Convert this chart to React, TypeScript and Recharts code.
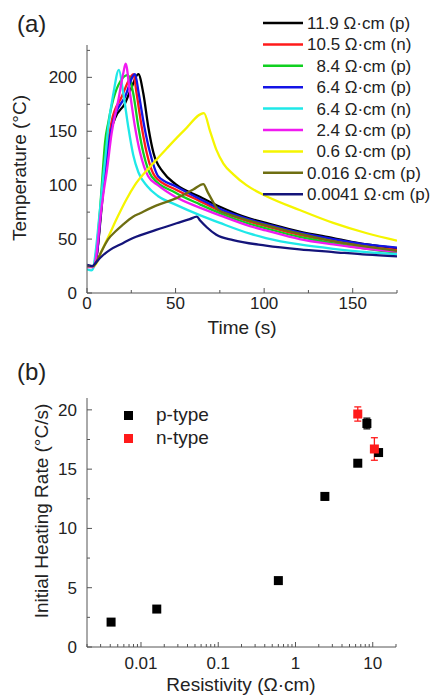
import React from "react";
import { LineChart, Line, XAxis, YAxis, ScatterChart, Scatter, ErrorBar } from "recharts";

const FONT = "Arial, 'Liberation Sans', sans-serif";
const AXIS = "#555";
const INK = "#222";

// ---- panel (a): temperature (°C) vs time (s), one [t, T] list per sample ----
const curve119p = [[0,25],[4,25],[5.5,35],[8,75],[10,110],[12,139],[15.8,162],[21.5,176],[25,190],[29,203],[31.8,185],[34.6,154],[37.5,130],[43,112],[50,101],[64,89],[75,80],[92,69],[101,65],[120,57],[139,51],[158,45],[175,41.5]];
const curve105n = [[0,25],[4,25],[5.5,35],[8,80],[10.2,120],[14,160],[19.6,182],[24.5,200],[26.2,203],[28,185],[30.9,154],[33.7,130],[38.4,108],[50,96],[64,85],[75,76],[92,66],[101,62],[120,54],[139,48],[158,43],[175,40]];
const curve84p = [[0,25],[3.5,25],[5,35],[7.5,80],[9,115],[10.2,140],[12,158],[15.8,185],[23,202],[26.1,185],[29,154],[31.8,130],[36.5,108],[50,93],[64,82],[75,74],[92,64],[101,60],[120,52],[139,46],[158,41],[175,37.5]];
const curve64p = [[0,25],[4,25],[5.5,35],[8,78],[10.2,114],[14.9,160],[21.5,182],[27.1,203],[29.2,185],[32.4,154],[35.6,130],[40.3,108],[50,99],[64,87],[75,78],[92,68],[101,64],[120,56],[139,50],[158,45],[175,42]];
const curve64n = [[0,22],[2.5,21],[3.5,23],[5,40],[7,72],[9,105],[10.5,128],[12,154],[14.9,185],[18,207],[20.5,185],[23.3,154],[26.1,128],[29,112],[34,99],[40,90],[50,82],[64,72],[75,65],[92,55],[101,51],[120,45],[139,41],[158,38],[175,36]];
const curve24p = [[0,24],[3.5,24],[5,32],[7.5,70],[9.5,95],[11.1,112],[13.9,148],[17.7,179],[20.5,204],[21.8,212.6],[24.3,185],[27.1,154],[30,130],[34.6,108],[40,100],[50,89],[64,79],[75,72],[92,62],[101,58],[120,50],[139,45],[158,41],[175,38.5]];
const curve06p = [[0,25],[4,25],[5.5,28],[8,38],[12,52],[17.7,72],[22,86],[27,100],[35,116],[45,134],[55,151],[66,166.8],[69.5,150],[73,133],[77,120],[82.6,110],[90,100],[101,90],[120,77],[139,65],[158,55.4],[175,48.6]];
const curve0016p = [[0,25],[3.5,25],[5,28],[8,38],[12,50],[16,57],[20,63],[26,70.8],[30,74],[39,81],[50.6,88],[60,96],[65.7,101],[68,94],[71,85],[74,77],[80,73],[92,67],[101,63],[120,55],[139,48],[158,43],[175,39]];
const curve00041p = [[0,26],[3,25],[4.5,27],[6,30],[9,35],[13,40],[20,46],[26,51],[39,58.5],[50.6,64.7],[58,68.5],[62,70.8],[64,67],[67.6,61],[73,54],[82.5,49],[101,44],[120,40.5],[139,38],[158,35.5],[175,34]];

const curves = [curve119p, curve105n, curve84p, curve64p, curve64n, curve24p, curve06p, curve0016p, curve00041p];
const sampleNumbers = ["11.9", "10.5", "8.4", "6.4", "6.4", "2.4", "0.6", "0.016", "0.0041"];
const sampleTypes = ["p", "n", "p", "p", "n", "p", "p", "p", "p"];
const lineColors = ["#000000", "#ff1a1a", "#10d020", "#1414e6", "#1fe8e8", "#f01af0", "#f5f500", "#6e6e12", "#14147a"];

const timeTicks = [0, 25, 50, 75, 100, 125, 150, 175];
const tempTicks = [0, 25, 50, 75, 100, 125, 150, 175, 200, 225];

// ---- panel (b): initial heating rate (°C/s) vs resistivity (Ω·cm) ----
const pRes = [0.0041, 0.016, 0.6, 2.4, 6.4, 8.4, 11.9];
const pRate = [2.1, 3.2, 5.6, 12.7, 15.5, 18.85, 16.4];
const pErr = [0.15, 0.15, 0.2, 0.3, 0.2, 0.45, 0.25];
const nRes = [6.4, 10.5];
const nRate = [19.65, 16.7];
const nErr = [0.6, 0.95];

const resTicks = [0.002, 0.003, 0.004, 0.005, 0.006, 0.007, 0.008, 0.009, 0.01, 0.02, 0.03, 0.04, 0.05, 0.06, 0.07, 0.08, 0.09, 0.1, 0.2, 0.3, 0.4, 0.5, 0.6, 0.7, 0.8, 0.9, 1, 2, 3, 4, 5, 6, 7, 8, 9, 10, 20];
const resLabels = [0.01, 0.1, 1, 10];
const rateTicks = [0, 2.5, 5, 7.5, 10, 12.5, 15, 17.5, 20];

const pData = pRes.map((x, i) => ({ x, y: pRate[i], err: pErr[i] }));
const nData = nRes.map((x, i) => ({ x, y: nRate[i], err: nErr[i] }));

const txt = { fontFamily: FONT, fill: INK };

function BottomTick(props: any, isMajor: (v: number) => boolean, dy: number) {
  const { x, y, payload } = props;
  const major = isMajor(payload.value);
  return (
    <g key={`bx-${payload.value}`}>
      <line x1={x} x2={x} y1={y} y2={y - (major ? 5 : 3)} stroke={AXIS} />
      {major && (
        <text x={x} y={y + dy} textAnchor="middle" fontSize={17} {...txt}>
          {payload.value}
        </text>
      )}
    </g>
  );
}

function LeftTick(props: any, isMajor: (v: number) => boolean) {
  const { x, y, payload } = props;
  const major = isMajor(payload.value);
  return (
    <g key={`ly-${payload.value}`}>
      <line x1={x} x2={x + (major ? 5 : 3)} y1={y} y2={y} stroke={AXIS} />
      {major && (
        <text x={x - 10} y={y} dy="0.35em" textAnchor="end" fontSize={17} {...txt}>
          {payload.value}
        </text>
      )}
    </g>
  );
}

const square = (color: string) => (p: any) => (
  <rect x={p.cx - 4.5} y={p.cy - 4.5} width={9} height={9} fill={color} />
);

const abs = (left: number, top: number, extra: React.CSSProperties = {}): React.CSSProperties => ({
  position: "absolute",
  left,
  top,
  whiteSpace: "pre",
  ...extra,
});

export default function App() {
  return (
    <div
      style={{
        position: "absolute",
        left: 0,
        top: 0,
        width: 433,
        height: 696,
        background: "#fff",
        fontFamily: FONT,
        color: INK,
        overflow: "hidden",
      }}
    >
      {/* (a) heating curves */}
      <div style={abs(0, 0)}>
        <LineChart width={433} height={340} margin={{ top: 45, right: 36, left: 0, bottom: 0 }}>
          <XAxis
            type="number"
            dataKey="t"
            domain={[0, 175]}
            ticks={timeTicks}
            interval={0}
            tickSize={0}
            tickMargin={0}
            height={47}
            stroke={AXIS}
            allowDataOverflow
            tick={(p: any) => BottomTick(p, (v) => v % 50 === 0, 16)}
          />
          <YAxis
            type="number"
            domain={[0, 230]}
            ticks={tempTicks}
            interval={0}
            tickSize={0}
            tickMargin={0}
            width={87}
            stroke={AXIS}
            allowDataOverflow
            tick={(p: any) => LeftTick(p, (v) => v % 50 === 0)}
          />
          {curves.map((pts, i) => (
            <Line
              key={i}
              data={pts.map(([t, T]) => ({ t, T }))}
              dataKey="T"
              type="monotone"
              stroke={lineColors[i]}
              strokeWidth={2.3}
              dot={false}
              activeDot={false}
              isAnimationActive={false}
            />
          ))}
        </LineChart>
      </div>

      {/* legend (a) */}
      <svg width={433} height={210} style={abs(0, 0)}>
        {sampleNumbers.map((num, i) => {
          const y = 23 + i * 21.4;
          const indent = num.length < 4 ? 9.4 : 0;
          return (
            <g key={i}>
              <line x1={263} x2={303} y1={y} y2={y} stroke={lineColors[i]} strokeWidth={2.5} />
              <text x={307 + indent} y={y} dy="0.35em" fontSize={17} {...txt}>
                {`${num} Ω·cm (${sampleTypes[i]})`}
              </text>
            </g>
          );
        })}
      </svg>

      <div style={abs(17, 10, { fontSize: 24 })}>(a)</div>
      <div style={abs(20, 168, { fontSize: 19, transform: "translate(-50%, -50%) rotate(-90deg)" })}>
        Temperature (°C)
      </div>
      <div style={abs(242, 328, { fontSize: 19, transform: "translate(-50%, -50%)" })}>Time (s)</div>

      {/* (b) heating rate vs resistivity */}
      <div style={abs(0, 340)}>
        <ScatterChart width={433} height={356} margin={{ top: 58, right: 37, left: 0, bottom: 0 }}>
          <XAxis
            type="number"
            dataKey="x"
            scale="log"
            domain={[0.002, 20]}
            ticks={resTicks}
            interval={0}
            tickSize={0}
            tickMargin={0}
            height={49}
            stroke={AXIS}
            allowDataOverflow
            tick={(p: any) => BottomTick(p, (v) => resLabels.includes(v), 22)}
          />
          <YAxis
            type="number"
            dataKey="y"
            domain={[0, 21]}
            ticks={rateTicks}
            interval={0}
            tickSize={0}
            tickMargin={0}
            width={87}
            stroke={AXIS}
            allowDataOverflow
            tick={(p: any) => LeftTick(p, (v) => v % 5 === 0)}
          />
          <Scatter data={pData} shape={square("#000")} isAnimationActive={false}>
            <ErrorBar dataKey="err" direction="y" width={3.5} stroke="#000" strokeWidth={1.3} />
          </Scatter>
          <Scatter data={nData} shape={square("#ff1a1a")} isAnimationActive={false}>
            <ErrorBar dataKey="err" direction="y" width={3.5} stroke="#ff1a1a" strokeWidth={1.3} />
          </Scatter>
        </ScatterChart>
      </div>

      {/* legend (b) */}
      <div style={abs(124, 411, { width: 9, height: 9, background: "#000" })} />
      <div style={abs(124, 434, { width: 9, height: 9, background: "#ff1a1a" })} />
      <div style={abs(156, 415, { fontSize: 19, transform: "translateY(-50%)" })}>p-type</div>
      <div style={abs(156, 438, { fontSize: 19, transform: "translateY(-50%)" })}>n-type</div>

      <div style={abs(17, 358, { fontSize: 24 })}>(b)</div>
      <div style={abs(42, 511, { fontSize: 19, transform: "translate(-50%, -50%) rotate(-90deg)" })}>
        Initial Heating Rate (°C/s)
      </div>
      <div style={abs(241, 685, { fontSize: 19, transform: "translate(-50%, -50%)" })}>
        Resistivity (Ω·cm)
      </div>
    </div>
  );
}
